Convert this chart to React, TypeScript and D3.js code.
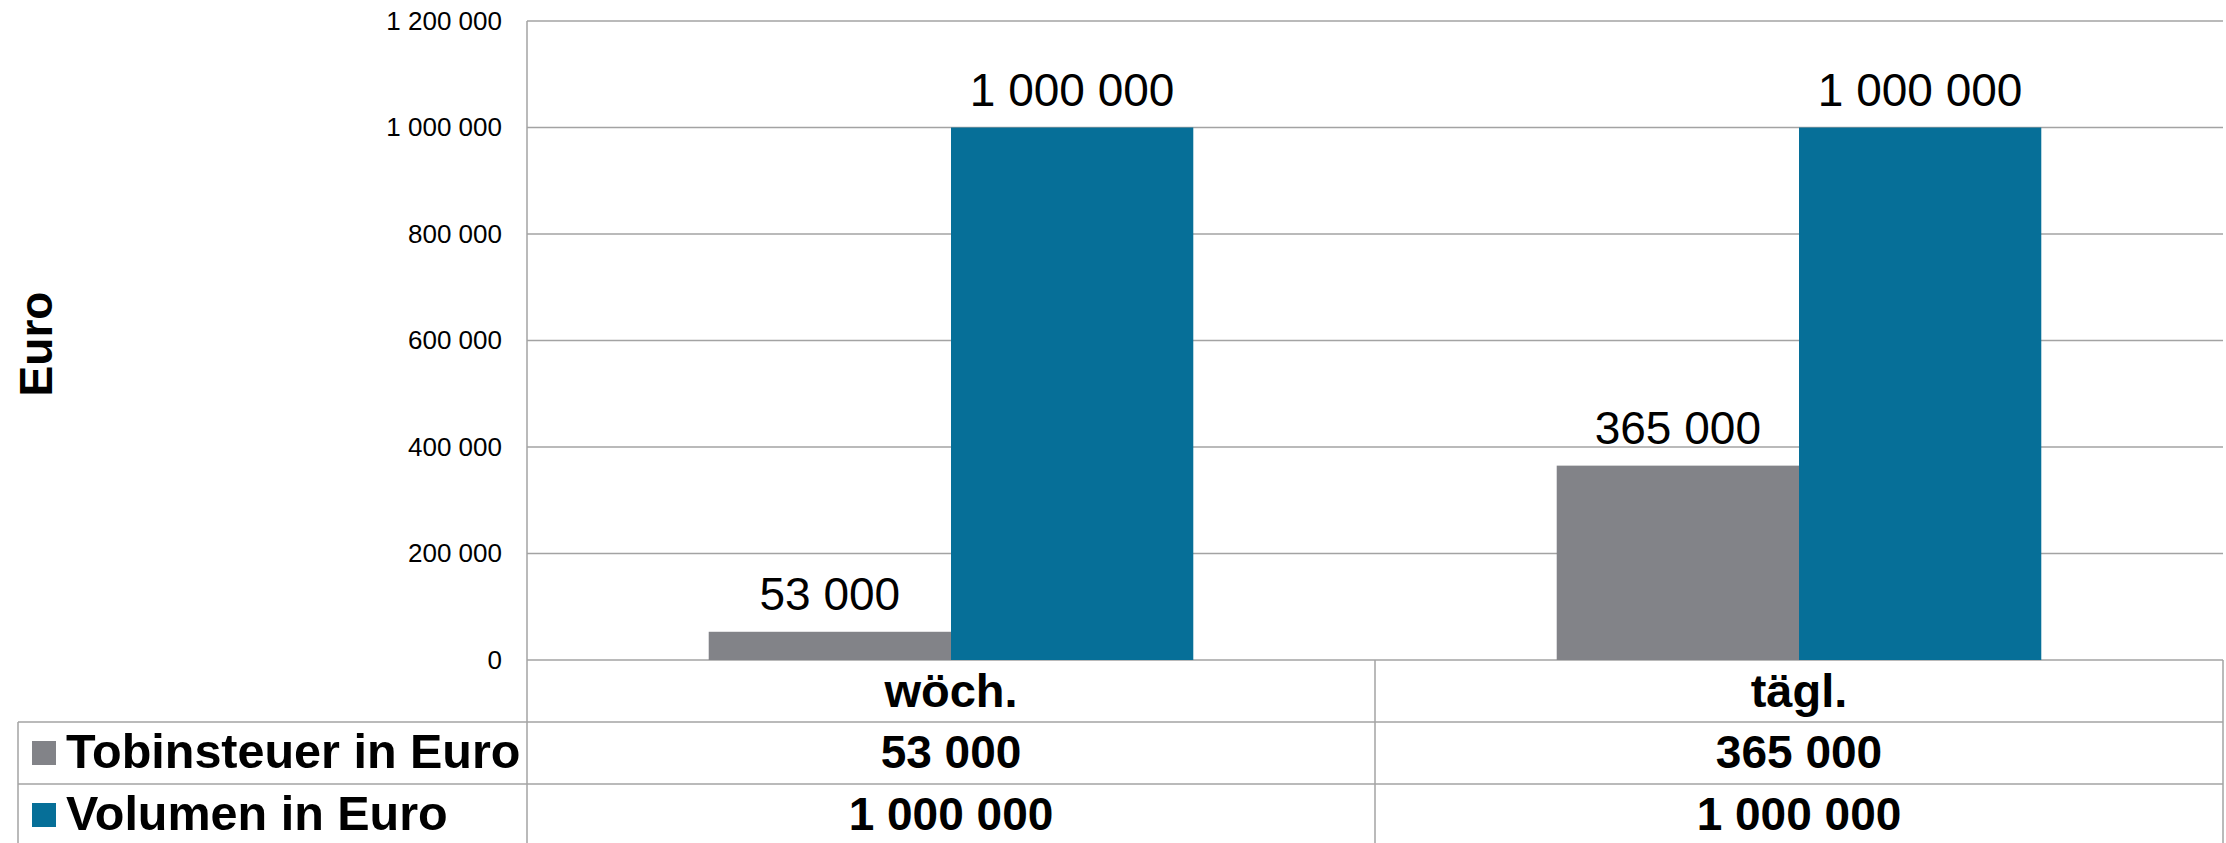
import React from 'react'
import * as d3 from 'd3'

const categories = ['wöch.', 'tägl.']
const seriesNames = ['Tobinsteuer in Euro', 'Volumen in Euro']
const tobinValues = [53000, 365000]
const volumeValues = [1000000, 1000000]
const yTicks = [0, 200000, 400000, 600000, 800000, 1000000, 1200000]
const colors = ['#828388', '#066F98']

const W = 2226
const H = 843
const margin = { top: 21, right: 3, left: 527 }
const zeroY = 660
const rowH = 62
const tableLeft = 18
const font = '"Liberation Sans", Arial, sans-serif'
const lineColor = '#a3a3a3'

const locale = d3.formatLocale({ decimal: ',', thousands: '\u00a0', grouping: [3], currency: ['', '€'] })
const fmt = locale.format(',d')

const App: React.FC = () => {
  const seriesValues = [tobinValues, volumeValues]
  const plotRight = W - margin.right

  const x = d3.scaleBand<string>().domain(categories).range([margin.left, plotRight]).padding(0)
  // excel style gap width 150%
  const xInner = d3
    .scaleBand<string>()
    .domain(seriesNames)
    .range([0, x.bandwidth()])
    .paddingInner(0)
    .paddingOuter(0.75)
  const y = d3.scaleLinear().domain([0, 1200000]).range([zeroY, margin.top])

  const rowTop = (i: number) => zeroY + rowH * i
  const tableRight = plotRight

  return (
    <div style={{ position: 'fixed', left: 0, top: 0 }}>
      <svg width={W} height={H} style={{ display: 'block', background: '#fff' }}>
        {/* gridlines */}
        {yTicks.map((t) => (
          <line
            key={t}
            x1={margin.left}
            x2={plotRight}
            y1={y(t)}
            y2={y(t)}
            stroke={lineColor}
            strokeWidth={1.5}
          />
        ))}
        {/* y tick labels */}
        {yTicks.map((t) => (
          <text
            key={'l' + t}
            x={502}
            y={y(t)}
            dy="0.33em"
            textAnchor="end"
            fontFamily={font}
            fontSize={26}
            fill="#000"
          >
            {fmt(t)}
          </text>
        ))}
        {/* y axis title */}
        <text
          transform={`translate(52,${344}) rotate(-90)`}
          textAnchor="middle"
          fontFamily={font}
          fontWeight="bold"
          fontSize={46}
        >
          Euro
        </text>

        {/* bars */}
        {categories.map((c, ci) =>
          seriesNames.map((s, si) => {
            const v = seriesValues[si][ci]
            const bx = (x(c) as number) + (xInner(s) as number)
            return (
              <g key={c + s}>
                <rect
                  x={bx}
                  y={y(v)}
                  width={xInner.bandwidth()}
                  height={y(0) - y(v)}
                  fill={colors[si]}
                />
                <text
                  x={bx + xInner.bandwidth() / 2}
                  y={y(v) - 22}
                  textAnchor="middle"
                  fontFamily={font}
                  fontSize={46}
                  fill="#000"
                >
                  {fmt(v)}
                </text>
              </g>
            )
          })
        )}

        {/* data table */}
        <line x1={margin.left} x2={margin.left} y1={margin.top} y2={H} stroke={lineColor} strokeWidth={1.5} />
        <line x1={x(categories[1])} x2={x(categories[1])} y1={zeroY} y2={H} stroke={lineColor} strokeWidth={1.5} />
        <line x1={tableRight} x2={tableRight} y1={zeroY} y2={H} stroke={lineColor} strokeWidth={1.5} />
        <line x1={tableLeft} x2={tableLeft} y1={rowTop(1)} y2={H} stroke={lineColor} strokeWidth={1.5} />
        {[1, 2].map((r) => (
          <line key={r} x1={tableLeft} x2={tableRight} y1={rowTop(r)} y2={rowTop(r)} stroke={lineColor} strokeWidth={1.5} />
        ))}
        {categories.map((c) => (
          <text
            key={c}
            x={(x(c) as number) + x.bandwidth() / 2}
            y={rowTop(0) + 47}
            textAnchor="middle"
            fontFamily={font}
            fontWeight="bold"
            fontSize={47}
          >
            {c}
          </text>
        ))}
        {seriesNames.map((s, si) => (
          <g key={s}>
            <rect x={32} y={rowTop(si + 1) + 19} width={24} height={24} fill={colors[si]} />
            <text
              x={66}
              y={rowTop(si + 1) + 46}
              fontFamily={font}
              fontWeight="bold"
              fontSize={48.5}
            >
              {s}
            </text>
            {categories.map((c, ci) => (
              <text
                key={c}
                x={(x(c) as number) + x.bandwidth() / 2}
                y={rowTop(si + 1) + 46}
                textAnchor="middle"
                fontFamily={font}
                fontWeight="bold"
                fontSize={46}
              >
                {fmt(seriesValues[si][ci])}
              </text>
            ))}
          </g>
        ))}
      </svg>
    </div>
  )
}

export default App
